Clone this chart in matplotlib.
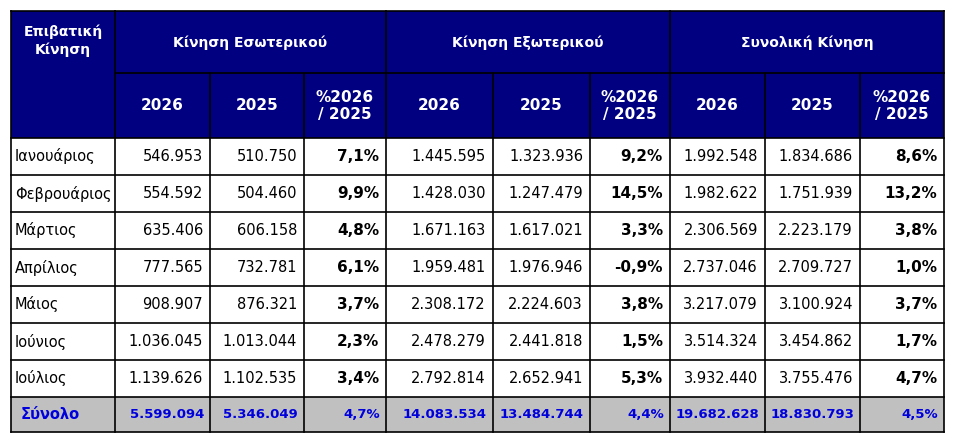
import matplotlib.pyplot as plt
from matplotlib.patches import Rectangle

NAVY = "#000080"
TOTAL_BG = "#c0c0c0"
TOTAL_FG = "#0000dd"

months = ["Ιανουάριος", "Φεβρουάριος", "Μάρτιος", "Απρίλιος", "Μάιος", "Ιούνιος", "Ιούλιος"]
dom_2026 = ["546.953", "554.592", "635.406", "777.565", "908.907", "1.036.045", "1.139.626"]
dom_2025 = ["510.750", "504.460", "606.158", "732.781", "876.321", "1.013.044", "1.102.535"]
dom_pct = ["7,1%", "9,9%", "4,8%", "6,1%", "3,7%", "2,3%", "3,4%"]
int_2026 = ["1.445.595", "1.428.030", "1.671.163", "1.959.481", "2.308.172", "2.478.279", "2.792.814"]
int_2025 = ["1.323.936", "1.247.479", "1.617.021", "1.976.946", "2.224.603", "2.441.818", "2.652.941"]
int_pct = ["9,2%", "14,5%", "3,3%", "-0,9%", "3,8%", "1,5%", "5,3%"]
tot_2026 = ["1.992.548", "1.982.622", "2.306.569", "2.737.046", "3.217.079", "3.514.324", "3.932.440"]
tot_2025 = ["1.834.686", "1.751.939", "2.223.179", "2.709.727", "3.100.924", "3.454.862", "3.755.476"]
tot_pct = ["8,6%", "13,2%", "3,8%", "1,0%", "3,7%", "1,7%", "4,7%"]
total_row = ["Σύνολο", "5.599.094", "5.346.049", "4,7%", "14.083.534", "13.484.744", "4,4%",
             "19.682.628", "18.830.793", "4,5%"]
groups = ["Κίνηση Εσωτερικού", "Κίνηση Εξωτερικού", "Συνολική Κίνηση"]
sub_headers = ["2026", "2025", "%2026\n/ 2025"]
corner = "Επιβατική\nΚίνηση"

# layout in pixels
col_x = [11, 115, 210, 304, 386, 493, 590, 670, 765, 860, 944]
row_y = [11, 73, 138, 175, 212, 249, 286, 323, 360, 397, 432]

fig = plt.figure(figsize=(9.62, 4.47), dpi=100)
ax = fig.add_axes([0, 0, 1, 1])
ax.set_xlim(0, 962)
ax.set_ylim(447, 0)
ax.axis("off")

ax.add_patch(Rectangle((col_x[0], row_y[0]), col_x[-1] - col_x[0], row_y[2] - row_y[0],
                       facecolor=NAVY, edgecolor="none"))
ax.add_patch(Rectangle((col_x[0], row_y[-2]), col_x[-1] - col_x[0], row_y[-1] - row_y[-2],
                       facecolor=TOTAL_BG, edgecolor="none"))

hdr = dict(color="white", fontweight="bold", ha="center", va="center", fontsize=10)
ax.text((col_x[0] + col_x[1]) / 2, 41, corner, linespacing=1.3, **hdr)
for g, name in enumerate(groups):
    x0, x1 = col_x[1 + 3 * g], col_x[4 + 3 * g]
    ax.text((x0 + x1) / 2, 43, name, **hdr)
    for k, s in enumerate(sub_headers):
        xa, xb = col_x[1 + 3 * g + k], col_x[2 + 3 * g + k]
        ax.text((xa + xb) / 2, 106, s, linespacing=1.25,
                **{**hdr, "fontsize": 11})

FS = 10.5
cols = [dom_2026, dom_2025, dom_pct, int_2026, int_2025, int_pct, tot_2026, tot_2025, tot_pct]
for r, m in enumerate(months):
    yc = (row_y[2 + r] + row_y[3 + r]) / 2
    ax.text(col_x[0] + 4, yc, m, ha="left", va="center", fontsize=FS)
    for c, vals in enumerate(cols):
        bold = c % 3 == 2
        ax.text(col_x[c + 2] - 7, yc, vals[r], ha="right", va="center", fontsize=FS + 0.5 if bold else FS,
                fontweight="bold" if bold else "normal")

yc = (row_y[-2] + row_y[-1]) / 2
ax.text(col_x[0] + 10, yc, total_row[0], ha="left", va="center", fontsize=10.5,
        fontweight="bold", color=TOTAL_FG)
for c, v in enumerate(total_row[1:]):
    ax.text(col_x[c + 2] - 6, yc, v, ha="right", va="center", fontsize=9.5,
            fontweight="bold", color=TOTAL_FG)

lw = 1.2
for y in row_y[2:]:
    ax.plot([col_x[0], col_x[-1]], [y, y], color="black", lw=lw)
ax.plot([col_x[0], col_x[-1]], [row_y[0], row_y[0]], color="black", lw=lw)
ax.plot([col_x[1], col_x[-1]], [row_y[1], row_y[1]], color="black", lw=lw)
for i, x in enumerate(col_x):
    top = row_y[0] if i in (0, 1, 4, 7, 10) else row_y[1]
    ax.plot([x, x], [top, row_y[-1]], color="black", lw=lw)

fig.savefig("out.png", dpi=100, facecolor="white")
